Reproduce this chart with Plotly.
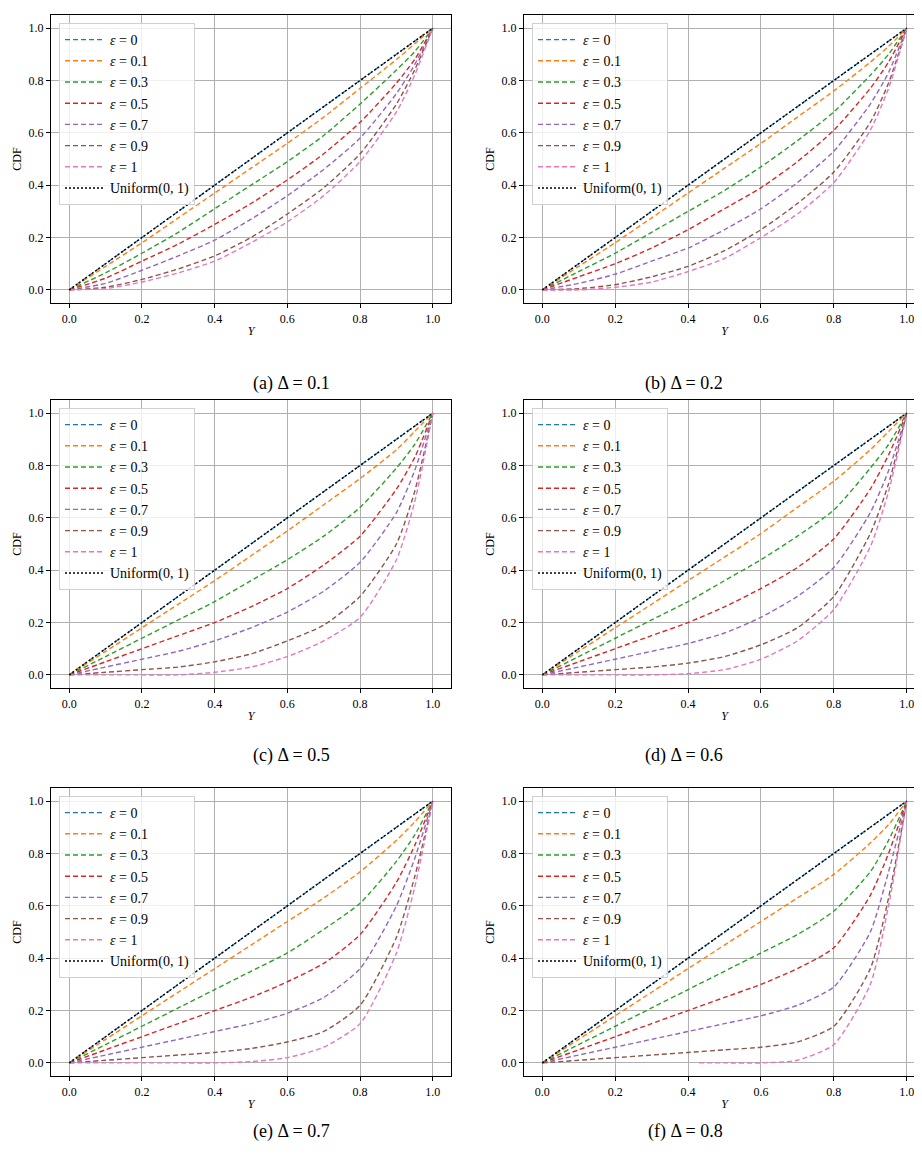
import plotly.graph_objects as go

Y = [0, 0.1, 0.2, 0.3, 0.4, 0.5, 0.6, 0.7, 0.8, 0.9, 0.95, 1.0]
eps_labels = ["0", "0.1", "0.3", "0.5", "0.7", "0.9", "1"]
deltas = ["0.1", "0.2", "0.5", "0.6", "0.7", "0.8"]
panel_letters = ["a", "b", "c", "d", "e", "f"]
uniform = [0, 0.1, 0.2, 0.3, 0.4, 0.5, 0.6, 0.7, 0.8, 0.9, 0.95, 1.0]

cdf_a = [
    [0, 0.1, 0.2, 0.3, 0.4, 0.5, 0.6, 0.7, 0.8, 0.9, 0.95, 1.0],
    [0, 0.09, 0.18, 0.275, 0.37, 0.465, 0.56, 0.66, 0.77, 0.88, 0.94, 1.0],
    [0, 0.065, 0.14, 0.22, 0.31, 0.40, 0.49, 0.59, 0.71, 0.84, 0.91, 1.0],
    [0, 0.045, 0.11, 0.175, 0.25, 0.33, 0.42, 0.52, 0.64, 0.79, 0.88, 1.0],
    [0, 0.025, 0.075, 0.13, 0.19, 0.27, 0.36, 0.46, 0.58, 0.75, 0.86, 1.0],
    [0, 0.01, 0.04, 0.08, 0.13, 0.20, 0.29, 0.39, 0.52, 0.71, 0.84, 1.0],
    [0, 0.005, 0.03, 0.065, 0.11, 0.18, 0.26, 0.36, 0.49, 0.68, 0.82, 1.0],
]
cdf_b = [
    [0, 0.1, 0.2, 0.3, 0.4, 0.5, 0.6, 0.7, 0.8, 0.9, 0.95, 1.0],
    [0, 0.09, 0.18, 0.275, 0.37, 0.465, 0.56, 0.66, 0.76, 0.87, 0.93, 1.0],
    [0, 0.07, 0.14, 0.22, 0.30, 0.38, 0.47, 0.57, 0.68, 0.82, 0.90, 1.0],
    [0, 0.05, 0.10, 0.16, 0.23, 0.31, 0.39, 0.49, 0.61, 0.77, 0.87, 1.0],
    [0, 0.025, 0.06, 0.11, 0.16, 0.23, 0.31, 0.41, 0.53, 0.71, 0.83, 1.0],
    [0, 0.005, 0.02, 0.05, 0.09, 0.15, 0.23, 0.33, 0.45, 0.64, 0.79, 1.0],
    [0, 0.0, 0.01, 0.03, 0.07, 0.12, 0.20, 0.29, 0.41, 0.61, 0.77, 1.0],
]
cdf_c = [
    [0, 0.1, 0.2, 0.3, 0.4, 0.5, 0.6, 0.7, 0.8, 0.9, 0.95, 1.0],
    [0, 0.09, 0.18, 0.27, 0.36, 0.455, 0.55, 0.65, 0.75, 0.86, 0.93, 1.0],
    [0, 0.07, 0.14, 0.21, 0.28, 0.36, 0.44, 0.53, 0.64, 0.79, 0.88, 1.0],
    [0, 0.05, 0.10, 0.15, 0.20, 0.26, 0.33, 0.42, 0.53, 0.71, 0.83, 1.0],
    [0, 0.03, 0.06, 0.09, 0.13, 0.18, 0.24, 0.32, 0.43, 0.62, 0.78, 1.0],
    [0, 0.01, 0.02, 0.03, 0.05, 0.08, 0.13, 0.19, 0.30, 0.50, 0.70, 1.0],
    [0, 0.0, 0.0, 0.0, 0.01, 0.03, 0.07, 0.13, 0.22, 0.44, 0.66, 1.0],
]
cdf_d = [
    [0, 0.1, 0.2, 0.3, 0.4, 0.5, 0.6, 0.7, 0.8, 0.9, 0.95, 1.0],
    [0, 0.09, 0.18, 0.27, 0.36, 0.45, 0.54, 0.64, 0.74, 0.86, 0.93, 1.0],
    [0, 0.07, 0.14, 0.21, 0.28, 0.36, 0.44, 0.53, 0.63, 0.79, 0.88, 1.0],
    [0, 0.05, 0.10, 0.15, 0.20, 0.26, 0.33, 0.41, 0.52, 0.71, 0.84, 1.0],
    [0, 0.03, 0.06, 0.09, 0.12, 0.16, 0.22, 0.30, 0.41, 0.62, 0.78, 1.0],
    [0, 0.01, 0.02, 0.03, 0.045, 0.07, 0.115, 0.18, 0.30, 0.54, 0.73, 1.0],
    [0, 0.0, 0.0, 0.0, 0.005, 0.02, 0.06, 0.13, 0.25, 0.49, 0.70, 1.0],
]
cdf_e = [
    [0, 0.1, 0.2, 0.3, 0.4, 0.5, 0.6, 0.7, 0.8, 0.9, 0.95, 1.0],
    [0, 0.09, 0.18, 0.27, 0.36, 0.45, 0.54, 0.63, 0.73, 0.85, 0.92, 1.0],
    [0, 0.07, 0.14, 0.21, 0.28, 0.35, 0.42, 0.51, 0.61, 0.77, 0.87, 1.0],
    [0, 0.05, 0.10, 0.15, 0.20, 0.25, 0.31, 0.38, 0.49, 0.69, 0.83, 1.0],
    [0, 0.03, 0.06, 0.09, 0.12, 0.15, 0.19, 0.25, 0.36, 0.60, 0.78, 1.0],
    [0, 0.01, 0.02, 0.03, 0.04, 0.055, 0.08, 0.12, 0.22, 0.48, 0.71, 1.0],
    [0, 0.0, 0.0, 0.0, 0.0, 0.005, 0.02, 0.06, 0.15, 0.42, 0.67, 1.0],
]
cdf_f = [
    [0, 0.1, 0.2, 0.3, 0.4, 0.5, 0.6, 0.7, 0.8, 0.9, 0.95, 1.0],
    [0, 0.09, 0.18, 0.27, 0.36, 0.45, 0.54, 0.63, 0.72, 0.84, 0.91, 1.0],
    [0, 0.07, 0.14, 0.21, 0.28, 0.35, 0.42, 0.49, 0.58, 0.73, 0.85, 1.0],
    [0, 0.05, 0.10, 0.15, 0.20, 0.25, 0.30, 0.36, 0.44, 0.64, 0.80, 1.0],
    [0, 0.03, 0.06, 0.09, 0.12, 0.15, 0.18, 0.22, 0.29, 0.50, 0.73, 1.0],
    [0, 0.01, 0.02, 0.03, 0.04, 0.05, 0.06, 0.08, 0.14, 0.36, 0.63, 1.0],
    [None, None, None, None, None, 0.0, 0.0, 0.01, 0.07, 0.30, 0.60, 1.0],
]
pink_f_start = 0.43
panels = [cdf_a, cdf_b, cdf_c, cdf_d, cdf_e, cdf_f]
colors = ["#1f77b4", "#ff7f0e", "#2ca02c", "#d62728", "#9467bd", "#8c564b", "#e377c2"]

W, H = 922, 1171
xdoms = [[43 / W, 443 / W], [516 / W, 917 / W]]
rows = [(7, 295), (392, 680), (780, 1068)]
caption_y = [363, 748, 1136]
FONT = "Liberation Serif"

fig = go.Figure()
annotations = []
layout = {}
for i, data in enumerate(panels):
    r, c = divmod(i, 2)
    n = "" if i == 0 else str(i + 1)
    xa, ya = "x" + n, "y" + n
    leg = "legend" + n
    top, bot = rows[r]
    ydom = [1 - bot / H, 1 - top / H]
    for k, vals in enumerate(data):
        xs = [Y[j] for j in range(len(Y)) if vals[j] is not None]
        vs = [v for v in vals if v is not None]
        if vals[0] is None:
            xs = [pink_f_start] + xs
            vs = [0.0] + vs
        fig.add_trace(go.Scatter(x=xs, y=vs, mode="lines",
                                 line=dict(color=colors[k], dash="5px,3px", width=1.4, shape="spline", smoothing=0.6),
                                 name="<i>ε</i> = " + eps_labels[k], xaxis=xa, yaxis=ya, legend=leg))
    fig.add_trace(go.Scatter(x=Y, y=uniform, mode="lines", line=dict(color="black", dash="2px,2px", width=1.4),
                             name="Uniform(0, 1)", xaxis=xa, yaxis=ya, legend=leg))
    axcommon = dict(showgrid=True, gridcolor="#b0b0b0", gridwidth=1, showline=True, linecolor="black", linewidth=1.2,
                    mirror=True, ticks="outside", ticklen=4, tickcolor="black", zeroline=False,
                    tickfont=dict(family=FONT, size=12, color="black"), range=[-0.05, 1.05],
                    tickvals=[0, 0.2, 0.4, 0.6, 0.8, 1.0], ticktext=["0.0", "0.2", "0.4", "0.6", "0.8", "1.0"])
    layout["xaxis" + n] = dict(axcommon, domain=xdoms[c], anchor=ya,
                               title=dict(text="<i>Y</i>", font=dict(family=FONT, size=12, color="black"), standoff=2))
    layout["yaxis" + n] = dict(axcommon, domain=ydom, anchor=xa,
                               title=dict(text="CDF", font=dict(family=FONT, size=12, color="black"), standoff=4))
    layout[leg] = dict(x=xdoms[c][0] + 8 / W, y=ydom[1] - 8 / H, xanchor="left", yanchor="top",
                       bgcolor="rgba(255,255,255,0.8)", bordercolor="#d0d0d0", borderwidth=1,
                       font=dict(family=FONT, size=14, color="black"), tracegroupgap=0, itemwidth=40)
    annotations.append(dict(text=f"({panel_letters[i]}) Δ = {deltas[i]}", xref="paper", yref="paper",
                            x=sum(xdoms[c]) / 2, y=1 - caption_y[r] / H, showarrow=False,
                            font=dict(family=FONT, size=18, color="black")))

fig.update_layout(width=W, height=H, margin=dict(l=0, r=0, t=0, b=0), plot_bgcolor="white", paper_bgcolor="white",
                  annotations=annotations, **layout)
fig.write_html("out.html")
